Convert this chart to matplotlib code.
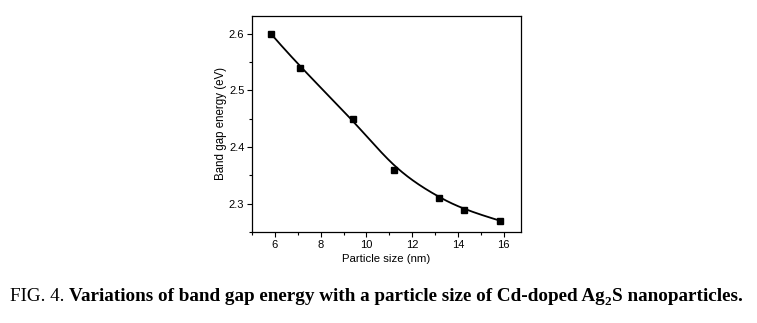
import numpy as np
import matplotlib.pyplot as plt

# band gap vs particle size
size_nm = [5.82, 7.11, 9.42, 11.22, 13.18, 14.27, 15.83]
gap_ev = [2.600, 2.540, 2.449, 2.360, 2.310, 2.289, 2.270]

xticks = [6, 8, 10, 12, 14, 16]
yticks = [2.3, 2.4, 2.5, 2.6]


def bspline(px, py, n=300, k=3):
    # clamped B-spline using the points as control points
    px = np.asarray(px, float)
    py = np.asarray(py, float)
    nc = len(px)
    knots = np.concatenate([np.zeros(k), np.arange(nc - k + 1), np.full(k, nc - k)])
    u = np.linspace(0, nc - k, n)
    u[-1] -= 1e-9
    B = np.array([((knots[i] <= u) & (u < knots[i + 1])).astype(float)
                  for i in range(len(knots) - 1)])
    for d in range(1, k + 1):
        Bn = np.zeros((len(knots) - 1 - d, n))
        for i in range(len(knots) - 1 - d):
            a = knots[i + d] - knots[i]
            b = knots[i + d + 1] - knots[i + 1]
            if a > 0:
                Bn[i] += (u - knots[i]) / a * B[i]
            if b > 0:
                Bn[i] += (knots[i + d + 1] - u) / b * B[i + 1]
        B = Bn
    return B.T @ px, B.T @ py


plt.rcParams['font.family'] = ['Liberation Sans', 'DejaVu Sans']

fig = plt.figure(figsize=(7.57, 3.23), dpi=100)
ax = fig.add_axes([252/757, 1 - 232/323, (521 - 252)/757, (232 - 16)/323])

cx, cy = bspline(size_nm, gap_ev)
ax.plot(cx, cy, color='black', lw=1.3)
ax.plot(size_nm, gap_ev, 's', color='black', ms=4.5)

ax.set_xlim(5.59, 16.75)
ax.set_ylim(2.250, 2.631)
ax.set_xticks(xticks)
ax.set_xticks([5, 7, 9, 11, 13, 15], minor=True)
ax.set_yticks(yticks)
ax.set_yticks([2.25, 2.35, 2.45, 2.55], minor=True)
ax.set_xticklabels([str(v) for v in xticks])
ax.set_yticklabels([str(v) for v in yticks])
ax.tick_params(which='both', direction='out', labelsize=8, top=False, right=False, pad=2)
ax.tick_params(which='major', length=3.5, width=0.8)
ax.tick_params(which='minor', length=2, width=0.8)
for s in ax.spines.values():
    s.set_linewidth(0.9)

ax.set_xlabel('Particle size (nm)', fontsize=8.2, labelpad=3)
ax.set_ylabel('Band gap energy (eV)', fontsize=8.3, labelpad=1)

# caption with mixed weights and a subscript
cap = dict(family='Liberation Serif', fontsize=13.8)
t1 = fig.text(10/757, 1 - 301/323, 'FIG. 4. ', **cap)
t2 = ax.annotate('Variations of band gap energy with a particle size of Cd-doped Ag',
                 xy=(1, 0), xycoords=t1, va='bottom', weight='bold', **cap)
t3 = ax.annotate('2', xy=(1, 0), xycoords=t2, xytext=(0, -2.5), textcoords='offset points',
                 va='bottom', weight='bold', family='Liberation Serif', fontsize=9.5)
ax.annotate('S nanoparticles.', xy=(1, 0), xycoords=t2, xytext=(t3.get_window_extent(fig.canvas.get_renderer()).width * 72 / 100, 0),
            textcoords='offset points', va='bottom', weight='bold', **cap)

fig.savefig('out.png', dpi=100)
